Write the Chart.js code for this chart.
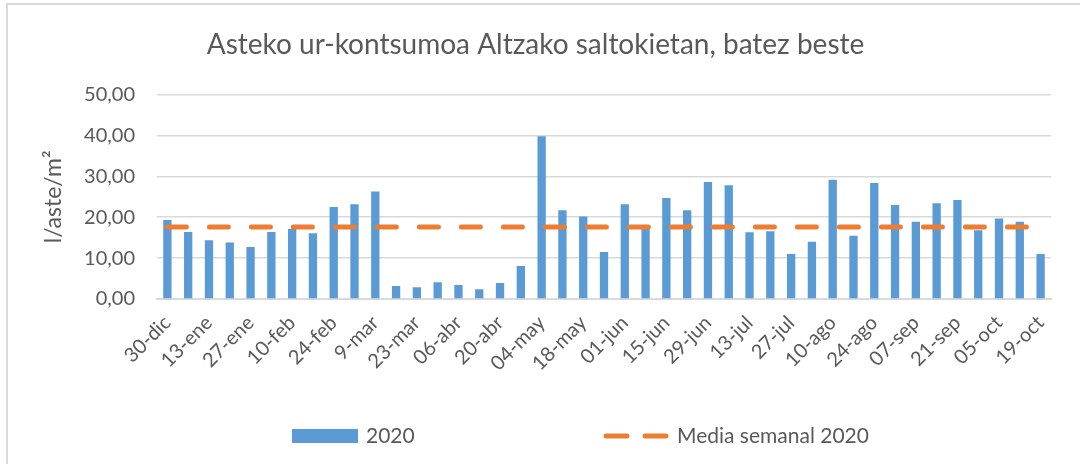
<!DOCTYPE html>
<html>
<head>
<meta charset="utf-8">
<script src="https://cdn.jsdelivr.net/npm/chart.js@4.4.0/dist/chart.umd.min.js"></script>
<style>
  html, body { margin: 0; padding: 0; background: #fff; overflow: hidden; }
  .wrap { position: relative; width: 1080px; height: 464px; }
  .marco { position: absolute; left: 6px; top: 3px; width: 1100px; height: 500px; border: 2px solid #d9d9d9; box-sizing: border-box; }
  canvas { position: absolute; left: 0; top: 0; }
</style>
</head>
<body>
<div class="wrap">
  <div class="marco"></div>
  <canvas id="consumo" width="1080" height="464"></canvas>
</div>
<script>
// datos semanales
const semanas = ['30-dic', '06-ene', '13-ene', '20-ene', '27-ene', '03-feb', '10-feb', '17-feb', '24-feb', '02-mar',
    '9-mar', '16-mar', '23-mar', '30-mar', '06-abr', '13-abr', '20-abr', '27-abr', '04-may', '11-may',
    '18-may', '25-may', '01-jun', '08-jun', '15-jun', '22-jun', '29-jun', '06-jul', '13-jul', '20-jul',
    '27-jul', '03-ago', '10-ago', '17-ago', '24-ago', '31-ago', '07-sep', '14-sep', '21-sep', '28-sep',
    '05-oct', '12-oct', '19-oct'];
const consumo2020 = [19.3, 16.4, 14.4, 13.8, 12.7, 16.4, 17.1, 16.1, 22.5, 23.2,
    26.3, 3.2, 2.9, 4.1, 3.4, 2.4, 3.9, 8.1, 39.8, 21.7,
    20.2, 11.5, 23.2, 17.8, 24.7, 21.7, 28.6, 27.8, 16.3, 16.6,
    11.0, 14.0, 29.2, 15.5, 28.4, 23.0, 18.9, 23.4, 24.2, 16.8,
    19.7, 18.9, 11.0];
const mediaSemanal = 17.6;
const mediaLinea = semanas.map(() => mediaSemanal);
const ticksY = [0, 10, 20, 30, 40, 50];

const azul = '#5B9BD5';
const naranja = '#ED7D31';
const gris = '#595959';
const fuente = 'Lato';

// leyenda abajo, dibujada a mano
const leyenda = {
    id: 'leyenda',
    afterDraw(chart) {
        const ctx = chart.ctx;
        const y = 436;
        ctx.save();
        ctx.fillStyle = azul;
        ctx.fillRect(292, 429, 66, 14);
        ctx.strokeStyle = naranja;
        ctx.lineWidth = 5;
        ctx.lineCap = 'round';
        ctx.beginPath();
        ctx.moveTo(606, y); ctx.lineTo(627, y);
        ctx.moveTo(645, y); ctx.lineTo(666, y);
        ctx.stroke();
        ctx.fillStyle = gris;
        ctx.font = '21px ' + fuente;
        ctx.textBaseline = 'middle';
        ctx.fillText('2020', 366, y);
        ctx.fillText('Media semanal 2020', 677, y);
        ctx.restore();
    }
};

let ctx = document.getElementById('consumo');
new Chart(ctx, {
    data: {
        labels: semanas,
        datasets: [{
            type: 'line',
            label: 'Media semanal 2020',
            data: mediaLinea,
            borderColor: naranja,
            borderWidth: 5,
            borderDash: [19, 23],
            borderCapStyle: 'round',
            pointRadius: 0,
            fill: false,
            order: 0
        }, {
            type: 'bar',
            label: '2020',
            data: consumo2020,
            backgroundColor: azul,
            barPercentage: 0.4,
            categoryPercentage: 1,
            order: 1
        }]
    },
    options: {
        responsive: false,
        animation: false,
        layout: { padding: { left: 20, right: 29, top: 0, bottom: 70 } },
        plugins: {
            legend: { display: false },
            tooltip: { enabled: false },
            title: {
                display: true,
                text: 'Asteko ur-kontsumoa Altzako saltokietan, batez beste',
                color: gris,
                font: { family: fuente, size: 28, weight: 'normal' },
                padding: { top: 28, bottom: 33 }
            }
        },
        scales: {
            x: {
                offset: true,
                grid: { display: false },
                border: { display: true, color: '#d9d9d9', width: 2 },
                ticks: {
                    autoSkip: false,
                    maxRotation: 45,
                    minRotation: 45,
                    padding: 4,
                    color: gris,
                    font: { family: fuente, size: 20 },
                    callback: (v, i) => i % 2 === 0 ? semanas[i] : ''
                },
                afterFit: (scale) => { scale.height = 95; }
            },
            y: {
                min: 0,
                max: 50,
                afterBuildTicks: (scale) => { scale.ticks = ticksY.map(v => ({ value: v })); },
                grid: { color: '#d9d9d9', lineWidth: 1.5, drawTicks: false },
                border: { display: false },
                ticks: {
                    padding: 22,
                    color: gris,
                    font: { family: fuente, size: 20 },
                    callback: (v) => v.toFixed(2).replace('.', ',')
                },
                title: {
                    display: true,
                    text: 'l/aste/m²',
                    color: gris,
                    font: { family: fuente, size: 23 },
                    padding: { top: 20, bottom: 0 }
                },
                afterFit: (scale) => { scale.width = 137; }
            }
        }
    },
    plugins: [leyenda]
});
</script>
</body>
</html>
